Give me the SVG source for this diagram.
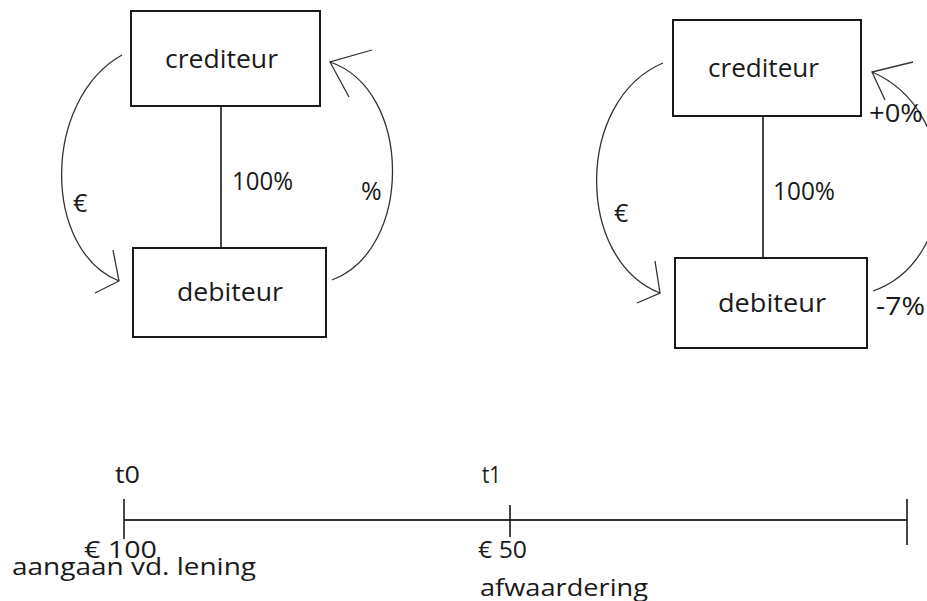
<svg xmlns="http://www.w3.org/2000/svg" width="927" height="601" viewBox="0 0 927 601">
<style>
.box{fill:#fff;stroke:#1a1a1a;stroke-width:2}
.lbl{font-family:"Open Sans","DejaVu Sans",sans-serif;font-size:25px;fill:#1a1a1a}
.tl{font-family:"Open Sans","DejaVu Sans",sans-serif;font-size:24px;fill:#1a1a1a}
.arc{fill:none;stroke:#333;stroke-width:1.3}
.ln{stroke:#1a1a1a;stroke-width:1.6;fill:none}
.axis{stroke:#333;stroke-width:2.2;fill:none}
</style>
<rect width="927" height="601" fill="#fff"/>
<g id="connectors">
<line class="ln" x1="221" y1="106" x2="221" y2="248"/>
<line class="ln" x1="763" y1="116" x2="763" y2="258"/>
<path class="arc" d="M122,55 C42,100 42,250 119,281"/>
<path class="arc" d="M113,250 L119,281 L95,293"/>
<path class="arc" d="M332,280 C413,250 413,90 330,62"/>
<path class="arc" d="M372,50 L330,62 L349,97"/>
<path class="arc" d="M663,63 C575,100 575,260 660,293"/>
<path class="arc" d="M655,261 L660,293 L637,303"/>
<path class="arc" d="M873,291 C962,260 962,110 872,72"/>
<path class="arc" d="M913,62 L872,72 L885,100"/>
</g>
<g id="left-crediteur">
<rect class="box" x="131" y="11" width="189" height="95"/>
<text class="lbl" x="165" y="68" textLength="113" lengthAdjust="spacingAndGlyphs">crediteur</text>
</g>
<g id="left-debiteur">
<rect class="box" x="133" y="248" width="193" height="89"/>
<text class="lbl" x="177" y="301" textLength="106" lengthAdjust="spacingAndGlyphs">debiteur</text>
</g>
<g id="left-labels">
<text class="lbl" x="232" y="190" textLength="61" lengthAdjust="spacingAndGlyphs">100%</text>
<text class="lbl" x="73" y="212">€</text>
<text class="lbl" x="361" y="200">%</text>
</g>
<g id="right-crediteur">
<rect class="box" x="673" y="20" width="188" height="96"/>
<text class="lbl" x="708" y="77" textLength="111" lengthAdjust="spacingAndGlyphs">crediteur</text>
</g>
<g id="right-debiteur">
<rect class="box" x="675" y="258" width="192" height="90"/>
<text class="lbl" x="718" y="312" textLength="108" lengthAdjust="spacingAndGlyphs">debiteur</text>
</g>
<g id="right-labels">
<text class="lbl" x="773" y="200" textLength="62" lengthAdjust="spacingAndGlyphs">100%</text>
<text class="lbl" x="614" y="222">€</text>
<text class="lbl" x="869" y="122" textLength="54" lengthAdjust="spacingAndGlyphs">+0%</text>
<text class="lbl" x="876" y="315" textLength="49" lengthAdjust="spacingAndGlyphs">-7%</text>
</g>
<g id="timeline">
<line class="axis" x1="124" y1="520" x2="907" y2="520"/>
<line class="ln" x1="124" y1="499" x2="124" y2="539"/>
<line class="ln" x1="510" y1="505" x2="510" y2="537"/>
<line class="ln" x1="907" y1="499" x2="907" y2="545"/>
<text class="tl" x="115" y="483" textLength="25" lengthAdjust="spacingAndGlyphs">t0</text>
<text class="tl" x="482" y="483" textLength="19" lengthAdjust="spacingAndGlyphs">t1</text>
<text class="tl" x="84" y="558" textLength="73" lengthAdjust="spacingAndGlyphs">€ 100</text>
<text class="tl" x="12" y="575" textLength="244" lengthAdjust="spacingAndGlyphs">aangaan vd. lening</text>
<text class="tl" x="478" y="558" textLength="49" lengthAdjust="spacingAndGlyphs">€ 50</text>
<text class="tl" x="480" y="596" textLength="168" lengthAdjust="spacingAndGlyphs">afwaardering</text>
</g>
</svg>
